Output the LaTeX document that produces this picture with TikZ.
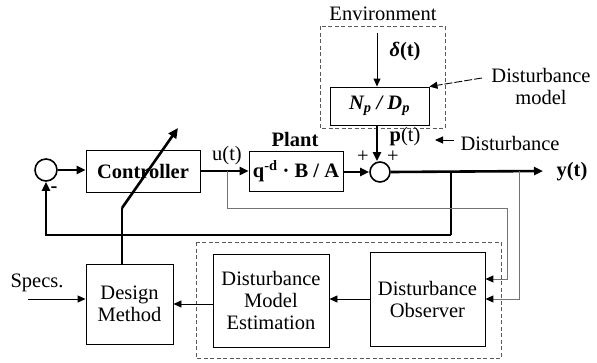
\documentclass[tikz,border=0pt]{standalone}
\usepackage{fontspec}
\setmainfont{Liberation Serif}
\usetikzlibrary{arrows.meta}
\begin{document}
\begin{tikzpicture}[x=1pt,y=-1pt,
  every node/.style={font=\fontsize{20.5}{22}\selectfont},
  bf/.style={font=\fontsize{20.5}{22}\selectfont\bfseries},
  blk/.style={draw,line width=0.9pt,minimum width=#1,inner sep=0pt,align=center},
  sumc/.style={draw,circle,line width=1.6pt,minimum size=#1,inner sep=0pt},
  thk/.style={line width=2.6pt,-{Triangle[length=9pt,width=8pt]}},
  thkl/.style={line width=2.6pt},
  thn/.style={line width=0.9pt,-{Triangle[length=8pt,width=7pt]}},
  gry/.style={line width=1pt,draw=black!55,-{Triangle[length=8pt,width=7pt,fill=black,color=black]}},
  dsh/.style={draw=black!65,line width=0.9pt,dash pattern=on 4pt off 2.5pt}]
\useasboundingbox (0,0) rectangle (597,362);
% blocks
\node[sumc=22pt] (sumL) at (46,170) {};
\node[blk=114pt,minimum height=42pt,bf] (ctrl) at (143,171) {Controller};
\node[blk=94pt,minimum height=40pt,bf] (plant) at (296,171) {q\textsuperscript{-d} · B / A};
\node[sumc=20pt] (sumR) at (380,172) {};
\node[blk=99pt,minimum height=38pt] (np) at (379.5,106) {\bfseries\itshape N\textsubscript{p} / D\textsubscript{p}};
\node[blk=115pt,minimum height=94pt] (obs) at (427.5,299) {Disturbance\\Observer};
\node[blk=116pt,minimum height=93pt] (est) at (271,300.5) {Disturbance\\Model\\Estimation};
\node[blk=87pt,minimum height=80pt] (dsg) at (129.5,304) {Design\\Method};
% dashed frames
\draw[dsh] (320,26) rectangle (445,128);
\draw[dsh] (196,242) rectangle (501,358);
% labels
\node (envl) at (383,14) {Environment};
\node[bf] (plantl) at (295,139) {Plant};
\node (ul) at (227,156) {u(t)};
\node (pl) at (405,137) {\textbf{p}(t)};
\node (dl) at (405,52) {\textbf{\textit{δ}(t)}};
\node (p1) at (363,157) {+};
\node (p2) at (393,157) {+};
\node[bf] (mn) at (54,190) {-};
\node[bf] (yl) at (572,172) {y(t)};
\node (specl) at (37,283) {Specs.};
\node[align=center] (dml) at (541,86) {Disturbance\\model};
\node[anchor=west] (dstl) at (457,143) {Disturbance};
% coordinates
\coordinate (ub) at (227,171);
\coordinate (uc) at (507,208);
\coordinate (yb1) at (451,171);
\coordinate (yb2) at (519,171);
\coordinate (fbc) at (451,235);
\coordinate (yend) at (543,171);
\coordinate (dtop) at (377,33);
\coordinate (dmS) at (482,78);
\coordinate (dA) at (454,140);
\coordinate (dB) at (435,140);
\coordinate (spS) at (28,299);
\coordinate (dsB) at (122,264);
\coordinate (dsK) at (122,208);
\coordinate (dsT) at (178,128);
% main path
\draw[thk] (sumL.east) -- (sumL.east -| ctrl.west);
\draw[thk] (ctrl.east |- ub) -- (plant.west |- ub);
\draw[thk] (plant.east |- sumR) -- (sumR.west);
\draw[thk] (sumR.east) -- (yend);
\draw[thk] (np.south -| dtop) -- (sumR.north -| dtop);
% feedback
\draw[thkl] (yb1) -- (fbc);
\draw[thk] (fbc) -| (sumL.south);
% observer inputs
\draw[gry] (ub) |- (uc) |- ([yshift=20pt]obs.east);
\draw[gry] (yb2) |- (obs.east);
% lower chain
\draw[thn] (obs.west) -- (obs.west -| est.east);
\draw[thn] (est.west |- dsg) -- (dsg.east);
\draw[thn] (spS) -- (spS -| dsg.west);
% design adjust arrow
\draw[line width=2.6pt] (dsB) -- (dsK);
\draw[line width=2.6pt,-{Triangle[length=10pt,width=9pt]}] (dsK) -- (dsT);
% disturbance inputs
\draw[thn] (dtop) -- (dtop |- np.north);
\draw[thn,dash pattern=on 8pt off 2pt] (dmS) -- (np.north east);
\draw[thn] (dA) -- (dB);
\end{tikzpicture}
\end{document}
